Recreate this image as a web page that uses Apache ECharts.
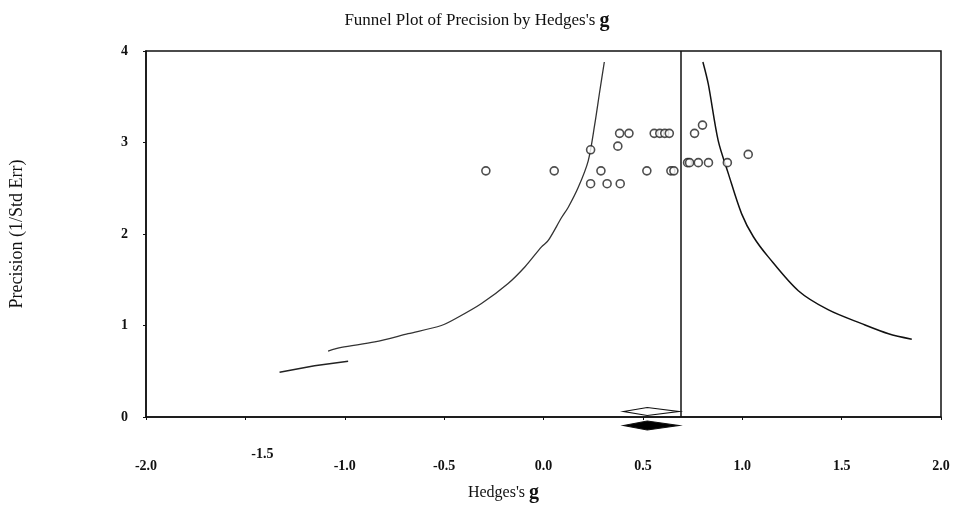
<!DOCTYPE html>
<html>
<head>
<meta charset="utf-8">
<script src="https://cdn.jsdelivr.net/npm/echarts@6/dist/echarts.min.js"></script>
<style>html,body{margin:0;padding:0;background:#fff}#c{width:954px;height:511px}</style>
</head>
<body>
<div id="c"></div>
<script>
// ---- data ----
var xTickLabels = ['-2.0','-1.5','-1.0','-0.5','0.0','0.5','1.0','1.5','2.0'];
var yTickLabels = ['0','1','2','3','4'];

// studies: [Hedges's g, precision]
var studies = [
  [-0.29, 2.69], [0.054, 2.69], [0.237, 2.92], [0.237, 2.55], [0.289, 2.69],
  [0.32, 2.55], [0.386, 2.55], [0.374, 2.96], [0.383, 3.10], [0.43, 3.10],
  [0.52, 2.69], [0.557, 3.10], [0.585, 3.10], [0.61, 3.10], [0.633, 3.10],
  [0.641, 2.69], [0.656, 2.69], [0.725, 2.78], [0.735, 2.78], [0.779, 2.78],
  [0.83, 2.78], [0.76, 3.10], [0.80, 3.19], [0.925, 2.78], [1.03, 2.87]
];

// funnel limit lines
var leftFunnel = [
  [0.306, 3.88], [0.283, 3.56], [0.258, 3.20], [0.225, 2.80], [0.175, 2.51],
  [0.124, 2.29], [0.091, 2.18], [0.024, 1.93], [-0.010, 1.86], [-0.094, 1.64],
  [-0.178, 1.46], [-0.312, 1.24], [-0.430, 1.09], [-0.514, 1.00], [-0.681, 0.91],
  [-0.849, 0.82], [-1.017, 0.76], [-1.084, 0.72]
];
var leftFunnelTail = [[-1.328, 0.49], [-1.152, 0.56], [-0.983, 0.61]];
var rightFunnel = [
  [0.802, 3.88], [0.829, 3.64], [0.879, 3.02], [0.930, 2.66], [0.997, 2.22],
  [1.056, 1.97], [1.131, 1.75], [1.282, 1.38], [1.434, 1.17], [1.601, 1.02],
  [1.736, 0.91], [1.853, 0.85]
];

var meanLine = 0.685;
// summary diamonds: [lower, point, upper]
var diamondOpen = [0.403, 0.522, 0.68];
var diamondFilled = [0.403, 0.522, 0.68];

// ---- chart ----
var FONT = 'Liberation Serif';
var chart = echarts.init(document.getElementById('c'));

function diamondRender(dy, hh, filled) {
  return function (params, api) {
    var lo = api.coord([api.value(0), 0]);
    var mid = api.coord([api.value(1), 0]);
    var hi = api.coord([api.value(2), 0]);
    var cy = lo[1] + dy;
    return {
      type: 'polygon',
      shape: { points: [[lo[0], cy], [mid[0], cy - hh], [hi[0], cy], [mid[0], cy + hh]] },
      style: { fill: filled ? '#000' : '#fff', stroke: '#111', lineWidth: 1.2 },
      z2: 10
    };
  };
}

chart.setOption({
  backgroundColor: '#fff',
  animation: false,
  title: {
    text: "Funnel Plot of Precision by Hedges's {g|g}",
    left: 'center',
    top: 6,
    textStyle: {
      fontFamily: FONT, fontSize: 17, fontWeight: 'normal', color: '#111',
      rich: { g: { fontFamily: FONT, fontSize: 20, fontWeight: 'bold', color: '#111' } }
    }
  },
  grid: {
    left: 145, right: 13, top: 51, bottom: 94,
    show: true, borderColor: '#111', borderWidth: 1.5
  },
  xAxis: {
    type: 'value', min: -2, max: 2, interval: 0.5,
    name: "Hedges's {g|g}", nameLocation: 'middle', nameGap: 66,
    nameTextStyle: {
      fontFamily: FONT, fontSize: 16, color: '#111', padding: [0, 80, 0, 0],
      rich: { g: { fontFamily: FONT, fontSize: 20, fontWeight: 'bold', color: '#111' } }
    },
    axisLine: { onZero: false, lineStyle: { color: '#111', width: 1.5 } },
    axisTick: { length: 3, lineStyle: { color: '#111' } },
    splitLine: { show: false },
    axisLabel: {
      margin: 30,
      fontFamily: FONT, fontSize: 14, fontWeight: 'bold', color: '#111',
      formatter: function (v) {
        var i = Math.round((v + 2) / 0.5);
        var t = xTickLabels[i];
        return i === 1 ? '{u|' + t + '}' : '{n|' + t + '}';
      },
      rich: {
        n: { fontFamily: FONT, fontSize: 14, fontWeight: 'bold', color: '#111', padding: [12, 0, 0, 0] },
        u: { fontFamily: FONT, fontSize: 14, fontWeight: 'bold', color: '#111', padding: [0, 0, 0, 34] }
      }
    }
  },
  yAxis: {
    type: 'value', min: 0, max: 4, interval: 1,
    name: 'Precision (1/Std Err)', nameLocation: 'middle', nameGap: 120,
    nameTextStyle: { fontFamily: FONT, fontSize: 18, color: '#111' },
    axisLine: { show: true, onZero: false, lineStyle: { color: '#111', width: 1.5 } },
    axisTick: { show: true, length: 3, lineStyle: { color: '#111' } },
    splitLine: { show: false },
    axisLabel: {
      margin: 18,
      fontFamily: FONT, fontSize: 14, fontWeight: 'bold', color: '#111',
      formatter: function (v) { return yTickLabels[Math.round(v)]; }
    }
  },
  series: [
    {
      type: 'line', data: leftFunnel, showSymbol: false, symbol: 'none',
      smooth: 0.3,
      lineStyle: { color: '#333', width: 1.3 }, z: 3,
      markLine: {
        silent: true, symbol: 'none', label: { show: false },
        lineStyle: { color: '#111', width: 1.5, type: 'solid' },
        data: [{ xAxis: meanLine }]
      }
    },
    {
      type: 'line', data: leftFunnelTail, showSymbol: false, symbol: 'none',
      lineStyle: { color: '#222', width: 1.5 }, z: 3
    },
    {
      type: 'line', data: rightFunnel, showSymbol: false, symbol: 'none',
      smooth: 0.3,
      lineStyle: { color: '#111', width: 1.5 }, z: 3
    },
    {
      type: 'scatter', data: studies, symbol: 'circle', symbolSize: 8,
      itemStyle: { color: '#fff', borderColor: '#222', borderWidth: 1.6 }, z: 5
    },
    {
      type: 'custom', clip: false, renderItem: diamondRender(-5.5, 4, false),
      data: [[diamondOpen[0], diamondOpen[1], diamondOpen[2], 0]],
      encode: { x: [0, 1, 2], y: 3 }, z: 6
    },
    {
      type: 'custom', clip: false, renderItem: diamondRender(8.5, 4.5, true),
      data: [[diamondFilled[0], diamondFilled[1], diamondFilled[2], 0]],
      encode: { x: [0, 1, 2], y: 3 }, z: 6
    }
  ]
});
</script>
</body>
</html>
